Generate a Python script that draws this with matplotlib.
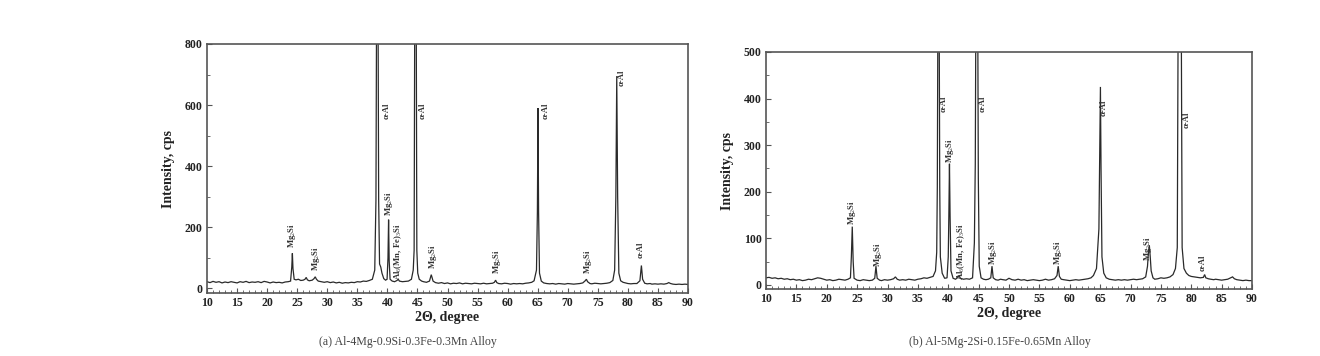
import matplotlib
matplotlib.use("Agg")
import matplotlib.pyplot as plt
from matplotlib.ticker import MultipleLocator

plt.rcParams['font.family'] = ['Liberation Serif', 'DejaVu Serif']
plt.rcParams['mathtext.fontset'] = 'custom'
plt.rcParams['mathtext.rm'] = 'Liberation Serif'
plt.rcParams['mathtext.it'] = 'Liberation Serif'
plt.rcParams['mathtext.bf'] = 'Liberation Serif:bold'

# ---------------- data (a) ----------------
twotheta_a = [10, 10.5, 11, 11.5, 12, 12.5, 13, 13.5, 14, 14.5, 15, 15.5, 16, 16.5, 17, 17.5, 18, 18.5, 19, 19.5,
              20, 20.5, 21, 21.5, 22, 22.5, 23, 23.5, 23.9, 24.1, 24.2, 24.3, 24.5, 24.8, 25.2, 25.6, 26.0, 26.3,
              26.5, 26.7, 27.0, 27.5, 27.8, 28.0, 28.2, 28.5, 29, 29.5, 30, 30.5, 31, 31.5, 32, 32.5, 33, 33.5, 34,
              34.5, 35, 35.5, 36, 36.5, 37, 37.5, 37.9, 38.1, 38.2, 38.3, 38.45, 38.55, 38.7, 38.9, 39.1, 39.4, 39.7,
              39.95, 40.1, 40.2, 40.3, 40.45, 40.8, 41.2, 41.6, 41.8, 42.0, 42.5, 43, 43.5, 44, 44.3, 44.45, 44.55,
              44.8, 44.9, 45.05, 45.3, 45.7, 46, 46.5, 47.0, 47.3, 47.6, 48, 48.5, 49, 49.5, 50, 50.5, 51, 51.5, 52,
              52.5, 53, 53.5, 54, 54.5, 55, 55.5, 56, 56.5, 57, 57.5, 57.8, 58.0, 58.2, 58.5, 59, 59.5, 60, 60.5, 61,
              61.5, 62, 62.5, 63, 63.5, 64, 64.4, 64.8, 64.95, 65.05, 65.15, 65.3, 65.6, 66, 66.5, 67, 67.5, 68,
              68.5, 69, 69.5, 70, 70.5, 71, 71.5, 72, 72.5, 72.9, 73.1, 73.3, 73.7, 74, 74.5, 75, 75.5, 76, 76.5, 77,
              77.5, 77.8, 78.0, 78.15, 78.3, 78.5, 78.8, 79.2, 79.6, 80, 80.5, 81, 81.5, 82.0, 82.25, 82.45, 82.8,
              83.2, 83.7, 84, 84.5, 85, 85.5, 86, 86.5, 86.8, 87.1, 87.5, 88, 88.5, 89, 89.5, 90]
intensity_a = [22, 19, 23, 20, 22, 18, 21, 19, 22, 20, 18, 22, 20, 23, 19, 21, 20, 22, 19, 23,
               21, 18, 21, 19, 20, 18, 21, 22, 24, 70, 115, 65, 30, 28, 30, 26, 27, 30,
               36, 28, 25, 27, 32, 38, 30, 24, 22, 20, 22, 19, 21, 18, 20, 17, 19, 18, 20,
               19, 22, 21, 24, 23, 26, 30, 60, 290, 900, 900, 900, 290, 80, 70, 50, 32, 27,
               30, 100, 225, 90, 30, 24, 22, 26, 30, 24, 22, 23, 24, 30, 60, 125, 900,
               900, 125, 50, 30, 24, 22, 20, 24, 45, 24, 19, 17, 19, 16, 18, 15, 17, 16, 18,
               15, 17, 16, 15, 17, 16, 15, 17, 15, 16, 17, 20, 27, 19, 16, 15, 17, 16, 14, 16,
               15, 16, 15, 17, 18, 20, 25, 60, 250, 590, 250, 50, 24, 18, 16, 15, 16, 14,
               16, 15, 14, 16, 15, 14, 15, 16, 18, 25, 30, 22, 16, 15, 17, 16, 15, 16, 17, 19,
               26, 60, 300, 695, 300, 50, 25, 20, 18, 16, 15, 16, 16, 25, 75, 30, 17,
               15, 16, 14, 15, 14, 15, 14, 16, 19, 16, 14, 13, 14, 13, 14, 13]

# ---------------- data (b) ----------------
twotheta_b = [10, 10.5, 11, 11.5, 12, 12.5, 13, 13.5, 14, 14.5, 15, 15.5, 16, 16.5, 17, 17.5, 18, 18.5, 19, 19.5,
              20, 20.5, 21, 21.5, 22, 22.5, 23, 23.5, 23.9, 24.05, 24.2, 24.35, 24.5, 25, 25.5, 26, 26.5, 27, 27.5,
              27.9, 28.1, 28.3, 28.7, 29, 29.5, 30, 30.5, 31, 31.3, 31.6, 32, 32.5, 33, 33.5, 34, 34.5, 35, 35.5,
              36, 36.5, 37, 37.5, 37.9, 38.1, 38.2, 38.3, 38.5, 38.6, 38.7, 39.0, 39.4, 39.8, 40.0, 40.1, 40.2,
              40.3, 40.45, 40.8, 41.2, 41.6, 41.8, 42.0, 42.5, 43, 43.5, 44, 44.3, 44.45, 44.55, 44.85, 44.95, 45.1,
              45.4, 45.8, 46.2, 46.6, 47.0, 47.2, 47.4, 47.8, 48.2, 48.6, 49, 49.5, 50, 50.5, 51, 51.5, 52, 52.5,
              53, 53.5, 54, 54.5, 55, 55.5, 56, 56.5, 57, 57.5, 57.9, 58.1, 58.3, 58.6, 59, 59.5, 60, 60.5, 61,
              61.5, 62, 62.5, 63, 63.5, 63.9, 64.4, 64.8, 64.95, 65.05, 65.15, 65.3, 65.6, 66, 66.5, 67, 67.5, 68,
              68.5, 69, 69.5, 70, 70.5, 71, 71.5, 72, 72.5, 72.8, 72.95, 73.1, 73.25, 73.4, 73.7, 74, 74.5, 75,
              75.5, 76, 76.5, 77, 77.4, 77.7, 77.85, 78.35, 78.5, 78.8, 79.2, 79.6, 80, 80.5, 81, 81.5, 82.0, 82.2,
              82.4, 82.8, 83.2, 83.7, 84, 84.5, 85, 85.5, 86, 86.5, 86.8, 87.1, 87.5, 88, 88.5, 89, 89.5, 90]
intensity_b = [15, 16, 14, 15, 13, 14, 12, 13, 11, 12, 10, 11, 9, 10, 12, 11, 13, 15, 14, 12,
               10, 11, 9, 10, 12, 11, 10, 12, 15, 60, 125, 50, 14, 10, 9, 11, 10, 9, 10,
               14, 40, 14, 10, 9, 11, 10, 11, 13, 17, 12, 10, 11, 10, 12, 11, 10, 12, 13,
               15, 14, 16, 18, 30, 70, 210, 600, 600, 210, 60, 25, 14, 15, 60, 150, 260,
               150, 30, 14, 12, 16, 20, 14, 12, 13, 12, 15, 90, 260, 600, 600, 230, 40,
               15, 12, 11, 12, 15, 40, 15, 11, 10, 12, 11, 10, 14, 11, 10, 12, 10, 11,
               9, 10, 11, 10, 9, 10, 12, 10, 11, 13, 20, 40, 18, 12, 11, 10, 9, 10, 11,
               10, 11, 12, 13, 15, 20, 35, 120, 300, 425, 250, 60, 25, 15, 12, 11, 10, 11,
               10, 11, 10, 11, 12, 11, 12, 13, 17, 40, 70, 85, 60, 30, 15, 12, 13, 15,
               14, 15, 17, 22, 35, 80, 600, 600, 80, 35, 25, 20, 18, 17, 16, 15, 16, 22,
               15, 13, 12, 11, 12, 11, 10, 11, 12, 15, 17, 13, 11, 10, 9, 10, 9, 9]

# peak labels: text, 2theta, bottom of text (cps)
MG = "Mg$_2$Si"
AL = "α-Al"
PH = "Al$_6$(Mn, Fe)$_3$Si"
labels_a_text = [MG, MG, AL, MG, PH, AL, MG, MG, AL, MG, AL, AL]
labels_a_x = [24.1, 28.1, 39.8, 40.3, 41.8, 45.9, 47.6, 58.2, 66.4, 73.4, 78.9, 82.2]
labels_a_y = [132, 58, 555, 236, 26, 555, 64, 48, 555, 48, 662, 100]
labels_b_text = [MG, MG, AL, MG, PH, AL, MG, MG, AL, MG, AL, AL]
labels_b_x = [24.2, 28.4, 39.3, 40.3, 42.1, 45.6, 47.4, 58.1, 65.6, 72.9, 79.3, 81.9]
labels_b_y = [128, 38, 372, 262, 10, 372, 42, 42, 362, 52, 336, 30]

yticks_a = [0, 200, 400, 600, 800]
yticks_b = [0, 100, 200, 300, 400, 500]
xticks = [10, 15, 20, 25, 30, 35, 40, 45, 50, 55, 60, 65, 70, 75, 80, 85, 90]
caption_a = "(a) Al-4Mg-0.9Si-0.3Fe-0.3Mn Alloy"
caption_b = "(b) Al-5Mg-2Si-0.15Fe-0.65Mn Alloy"

W, H = 1320, 356
fig = plt.figure(figsize=(W / 100, H / 100), dpi=100)

LINE = '#2a2a2a'
SPINE = '#555555'
TXT = '#222222'


def make_axes(rect, x, y, ylim, yticks, yminor, ltext, lx, ly, caption, cap_x):
    ax = fig.add_axes(rect)
    ax.plot(x, y, color=LINE, lw=0.9, solid_joinstyle='miter')
    ax.set_xlim(10, 90)
    ax.set_ylim(*ylim)
    ax.set_xticks(xticks)
    ax.xaxis.set_minor_locator(MultipleLocator(1))
    ax.set_yticks(yticks)
    ax.yaxis.set_minor_locator(MultipleLocator(yminor))
    ax.tick_params(axis='both', which='major', direction='in', length=3.5, width=0.8,
                   color=SPINE, labelsize=8.5, pad=3, top=False, right=False)
    ax.tick_params(axis='both', which='minor', direction='in', length=2, width=0.6,
                   color=SPINE, top=False, right=False)
    for lab in ax.get_xticklabels() + ax.get_yticklabels():
        lab.set_fontweight('bold')
        lab.set_color(TXT)
    for s in ax.spines.values():
        s.set_color(SPINE)
        s.set_linewidth(1.2)
    ax.set_xlabel("2Θ, degree", fontsize=10, fontweight='bold', color=TXT, labelpad=1)
    ax.set_ylabel("Intensity, cps", fontsize=10, fontweight='bold', color=TXT, labelpad=7)
    for t, xx, yy in zip(ltext, lx, ly):
        ax.text(xx, yy, t, rotation=90, fontsize=6.2, color='#333333', ha='center', va='bottom',
                fontweight='bold')
    fig.text(cap_x, 1 - 342 / H, caption, fontsize=8.6, color='#444444', ha='center', va='center')
    return ax


axa = make_axes([207 / W, 1 - 293 / H, 481 / W, 249 / H], twotheta_a, intensity_a, (-15, 800),
                yticks_a, 100, labels_a_text, labels_a_x, labels_a_y, caption_a, 408 / W)
axb = make_axes([766 / W, 1 - 289 / H, 486 / W, 237 / H], twotheta_b, intensity_b, (-9, 500),
                yticks_b, 50, labels_b_text, labels_b_x, labels_b_y, caption_b, 1000 / W)

fig.savefig("out.png", dpi=100)
